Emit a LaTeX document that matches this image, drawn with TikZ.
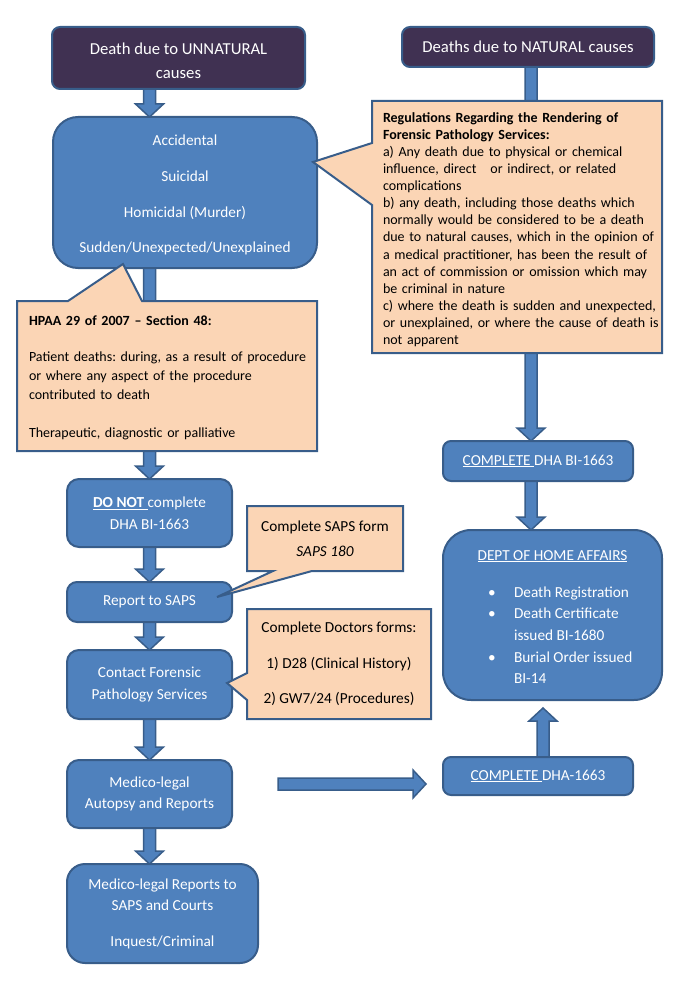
\documentclass[tikz,border=0pt]{standalone}
\usepackage{fontspec}
\setmainfont{Carlito}
\usetikzlibrary{calc}
\pgfdeclarelayer{bg}
\pgfdeclarelayer{fg}
\pgfsetlayers{bg,main,fg}
\frenchspacing

\definecolor{boxblue}{HTML}{4F81BD}
\definecolor{lineblue}{HTML}{385D8A}
\definecolor{causepurple}{HTML}{403152}
\definecolor{notepeach}{HTML}{FBD5B5}

\newcommand{\causefont}{\fontsize{16.7}{24}\selectfont}
\newcommand{\boxfont}{\fontsize{15.3}{21.7}\selectfont}
\newcommand{\notefont}{\fontsize{14}{17.13}\selectfont}
\newcommand{\actfont}{\fontsize{14}{19}\selectfont}
\newcommand{\homeitem}[2]{\makebox[129pt][l]{\makebox[26pt][l]{#1}#2}}

% block arrow from #1 to #2
\newcommand{\flowarrow}[2]{%
  \coordinate (fa-s) at (#1);
  \coordinate (fa-e) at (#2);
  \coordinate (fa-h) at ($(fa-e)!13pt!(fa-s)$);
  \draw[arrowbody] ($(fa-s)!6pt!90:(fa-e)$) -- ($(fa-h)!6pt!90:(fa-e)$)
    -- ($(fa-h)!14pt!90:(fa-e)$) -- (fa-e) -- ($(fa-h)!14pt!-90:(fa-e)$)
    -- ($(fa-h)!6pt!-90:(fa-e)$) -- ($(fa-s)!6pt!-90:(fa-e)$) -- cycle;}

\begin{document}
\begin{tikzpicture}[x=1pt, y=-1pt,
    causebox/.style={draw=lineblue, line width=2pt, fill=causepurple, text=white,
      rounded corners=8pt, align=center, font=\causefont, outer sep=0pt},
    stepbox/.style={draw=lineblue, line width=2pt, fill=boxblue, text=white,
      rounded corners=12pt, align=center, font=\boxfont, outer sep=0pt},
    notetext/.style={font=\notefont, text=black, inner ysep=0pt, outer sep=0pt},
    noteshape/.style={draw=lineblue, line width=2pt, fill=notepeach, line join=miter},
    arrowbody/.style={draw=lineblue, line width=1.5pt, fill=boxblue, line join=miter}]
  \useasboundingbox (0,0) rectangle (685,1000);

  % top boxes
  \node[causebox, minimum width=253pt, minimum height=62pt] (unnat) at (178.5,58) {\rule{0pt}{18pt}Death due to UNNATURAL\\causes};
  \node[causebox, minimum width=252pt, minimum height=40pt] (nat) at (528,47) {Deaths due to NATURAL causes};

  % left column
  \node[stepbox, rounded corners=25pt, minimum width=264pt, minimum height=151pt] (acc) at (185,192.5)
    {\rule{0pt}{16pt}Accidental\\[14pt]Suicidal\\[14pt]Homicidal (Murder)\\[14pt]Sudden/Unexpected/Unexplained};
  \node[stepbox, minimum width=165pt, minimum height=68pt] (donot) at (149.5,513)
    {\underline{\textbf{DO NOT }}complete\\DHA BI-1663};
  \node[stepbox, rounded corners=10pt, minimum width=165pt, minimum height=40pt] (report) at (149.5,602) {Report to SAPS};
  \node[stepbox, minimum width=165pt, minimum height=69pt] (contact) at (149.5,684.5) {Contact Forensic\\Pathology Services};
  \node[stepbox, minimum width=165pt, minimum height=68pt] (medico) at (149.5,794) {Medico-legal\\Autopsy and Reports};
  \node[stepbox, rounded corners=18pt, minimum width=191pt, minimum height=99pt] (reports) at (162.5,913.5)
    {Medico-legal Reports to\\SAPS and Courts\\[13.6pt]Inquest/Criminal};

  % right column
  \node[stepbox, rounded corners=8pt, minimum width=190pt, minimum height=40pt] (dhab) at (538,461) {\underline{COMPLETE }DHA BI-1663};
  \node[stepbox, rounded corners=28pt, minimum width=219pt, minimum height=170pt] (home) at (552.5,615)
    {\rule{0pt}{14pt}\underline{DEPT OF HOME AFFAIRS}\\[15.3pt]
     \homeitem{\textbullet}{Death Registration}\\
     \homeitem{\textbullet}{Death Certificate}\\
     \homeitem{}{issued BI-1680}\\
     \homeitem{\textbullet}{Burial Order issued}\\
     \homeitem{}{BI-14}};
  \node[stepbox, rounded corners=8pt, minimum width=190pt, minimum height=38pt] (dha2) at (538,776) {\underline{COMPLETE }DHA-1663};

  % callout texts
  \begin{pgfonlayer}{fg}
    \node[notetext, align=left, text width=268pt, inner xsep=11pt, minimum width=290pt, minimum height=252pt] (regnote) at (517,227)
      {\begin{tabular}{@{}l@{}}
       \rule{0pt}{18pt}\textbf{Regulations Regarding the Rendering of}\\
       \textbf{Forensic Pathology Services:}\\
       a) Any death due to physical or chemical\\
       influence, direct\ \ \ or indirect, or related\\
       complications\\
       b) any death, including those deaths which\\
       normally would be considered to be a death\\
       due to natural causes, which in the opinion of\\
       a medical practitioner, has been the result of\\
       an act of commission or omission which may\\
       be criminal in nature\\
       c) where the death is sudden and unexpected,\\
       or unexplained, or where the cause of death is\\
       not apparent
       \end{tabular}};
    \node[notetext, font=\actfont, align=left, text width=276pt, inner xsep=12pt, minimum width=300pt, minimum height=150pt] (hpaa) at (167,376)
      {\begin{tabular}{@{}l@{}}
       \rule{0pt}{17.3pt}\textbf{HPAA 29 of 2007 – Section 48:}\\[17pt]
       Patient deaths: during, as a result of procedure\\
       or where any aspect of the procedure\\
       contributed to death\\[19pt]
       Therapeutic, diagnostic or palliative
       \end{tabular}};
    \node[notetext, font=\fontsize{15.3}{25}\selectfont, align=center, minimum width=156pt, minimum height=65pt] (sapsnote) at (325,538.5)
      {Complete SAPS form\\\textit{SAPS 180}};
    \node[notetext, font=\boxfont, align=center, minimum width=184pt, minimum height=110pt] (docnote) at (339,664)
      {Complete Doctors forms:\\[13.8pt]1) D28 (Clinical History)\\[13.8pt]2) GW7/24 (Procedures)};
  \end{pgfonlayer}

  % arrows
  \coordinate (natout) at ([xshift=3pt]nat.south);
  \coordinate (dhaout) at ([xshift=5pt]dha2.north);
  \coordinate (homein) at ($(dhaout |- home.south)+(0,8)$);
  \coordinate (autoout) at ($(medico.east)+(46,-10)$);
  \coordinate (dhain) at ($(dha2.west)+(-17,8)$);
  \begin{pgfonlayer}{bg}
    \flowarrow{unnat.south -| donot.north}{acc.north -| donot.north}
    \flowarrow{acc.south -| donot.north}{donot.north}
    \flowarrow{donot.south}{report.north}
    \flowarrow{report.south}{contact.north}
    \flowarrow{contact.south}{medico.north}
    \flowarrow{medico.south}{medico.south |- reports.north}
    \flowarrow{autoout}{dhain}
    \flowarrow{natout}{natout |- dhab.north}
    \flowarrow{natout |- dhab.south}{natout |- home.north}
    \flowarrow{dhaout}{homein}
  \end{pgfonlayer}

  % callout shapes
  \coordinate (regtip) at ($(acc.north east)+(-4,45)$);
  \coordinate (hpaatip) at ($(acc.south west)+(70,-4)$);
  \coordinate (sapstip) at ($(report.east)+(-15,-5)$);
  \coordinate (doctip) at ($(contact.east)+(-5,-1.5)$);
  \draw[noteshape] (regnote.north west) -- (regnote.north east) -- (regnote.south east) -- (regnote.south west)
    -- ($(regnote.north west)+(0,104)$) -- (regtip) -- ($(regnote.north west)+(0,42)$) -- cycle;
  \draw[noteshape] (hpaa.north west) -- ($(hpaa.north west)+(51,0)$) -- (hpaatip) -- ($(hpaa.north west)+(125,0)$)
    -- (hpaa.north east) -- (hpaa.south east) -- (hpaa.south west) -- cycle;
  \draw[noteshape] (sapsnote.north west) -- (sapsnote.north east) -- (sapsnote.south east)
    -- ($(sapsnote.south west)+(65,0)$) -- (sapstip) -- ($(sapsnote.south west)+(26,0)$) -- (sapsnote.south west) -- cycle;
  \draw[noteshape] (docnote.north west) -- (docnote.north east) -- (docnote.south east) -- (docnote.south west)
    -- ($(docnote.north west)+(0,91)$) -- (doctip) -- ($(docnote.north west)+(0,64)$) -- cycle;
\end{tikzpicture}
\end{document}
